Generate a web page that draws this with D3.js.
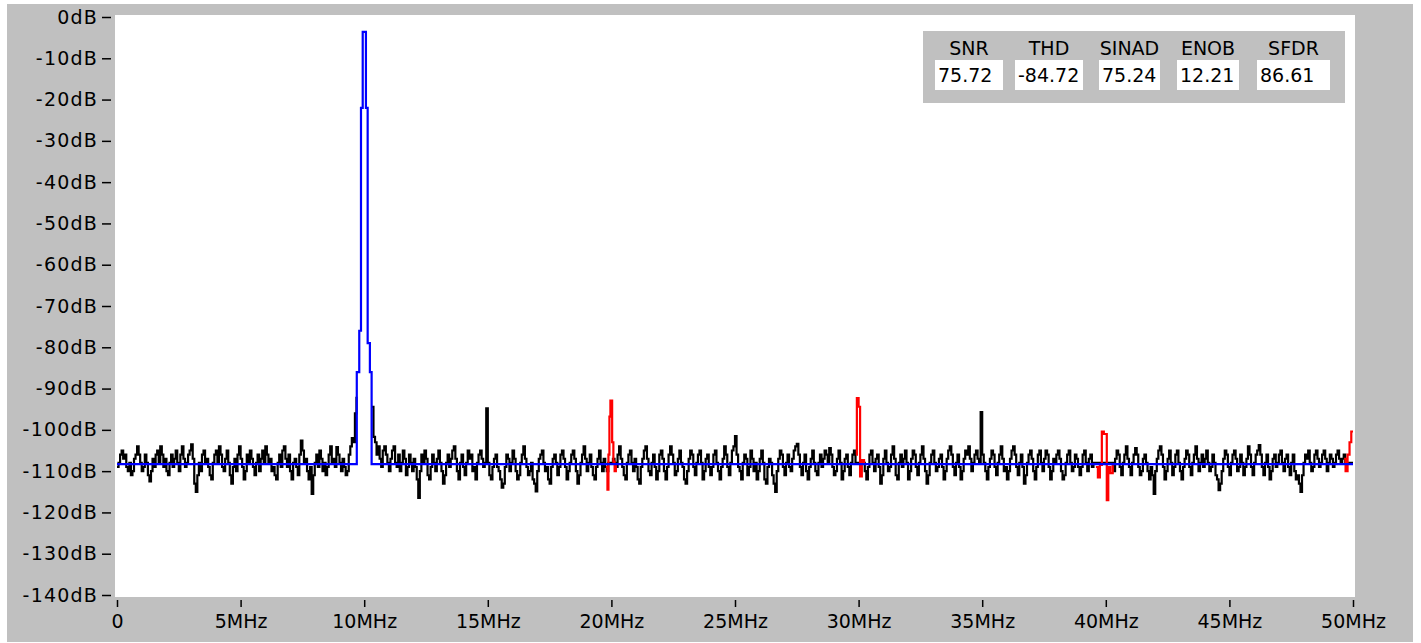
<!DOCTYPE html>
<html><head><meta charset="utf-8">
<script src="https://cdn.jsdelivr.net/npm/d3@7"></script>
<style>
body{margin:0;background:#fff}
svg{display:block}
text{font-family:"DejaVu Sans",sans-serif;fill:#000}
</style>
</head><body>
<svg id="c" width="1421" height="643"></svg>
<script>
// ---- data ----
const yTickValues = [0,-10,-20,-30,-40,-50,-60,-70,-80,-90,-100,-110,-120,-130,-140];
const yTickLabels = ["0dB","-10dB","-20dB","-30dB","-40dB","-50dB","-60dB","-70dB","-80dB","-90dB","-100dB","-110dB","-120dB","-130dB","-140dB"];
const xTickValues = [0,5,10,15,20,25,30,35,40,45,50];
const xTickLabels = ["0","5MHz","10MHz","15MHz","20MHz","25MHz","30MHz","35MHz","40MHz","45MHz","50MHz"];

const metricNames = ["SNR","THD","SINAD","ENOB","SFDR"];
const metricValues = ["75.72","-84.72","75.24","12.21","86.61"];

// noise trace (black): bins of 0.0625 MHz from 0 MHz, one row per MHz; null = under the fundamental
const noiseBinMHz = 0.0625;
const noiseDb = [
 -109,-108,-106,-105,-107,-106,-109,-110,-108,-111,-110,-107,-106,-104,-106,-108,
 -110,-109,-106,-108,-111,-112.5,-110,-107,-109,-106,-105,-108,-104,-106,-109,-107,
 -110,-111,-108,-106,-109,-107,-105,-108,-110,-106,-104,-107,-109,-108,-106,-105,
 -103.5,-107,-113,-115,-111,-108,-110,-106,-105,-108,-107,-109,-111,-112,-108,-106,
 -105,-108,-104,-106,-109,-110,-107,-105,-108,-111,-113,-109,-107,-110,-106,-104,
 -107,-109,-112,-110,-106,-108,-105,-107,-109,-111,-108,-106,-110,-107,-105,-108,
 -104,-106,-108,-107,-110,-109,-111,-112,-108,-106,-109,-105,-104,-107,-109,-106,
 -110,-112,-108,-107,-109,-111,-106,-102.6,-105,-108,-107,-110,-112,-109,-115.5,-111,
 -108,-106,-109,-105,-107,-110,-108,-111,-109,-106,-104,-108,-107,-109,-104.2,-106,
 -108,-110,-107,-109,-111,-110,-106,-104,-102,-103,-96,-92,null,null,null,null,
 null,null,null,null,null,-94.4,-101.7,-103,-106,-104,-107,-109,-105,-104,-106,-108,
 -110,-107,-105,-104,-108,-109,-106,-110,-108,-105,-107,-111,-109,-106,-108,-110,
 -107,-109,-112,-116.5,-110,-106,-108,-105,-107,-111,-112,-109,-106,-108,-110,-107,
 -105,-108,-110,-113,-111,-108,-106,-109,-107,-105,-104,-107,-110,-112,-108,-106,
 -109,-111,-108,-105,-107,-106,-110,-109,-112,-108,-106,-105,-107,-109,-108,-94.8,
 -108,-111,-112,-109,-107,-106,-109,-110,-112,-114,-113,-109,-106,-107,-110,-108,
 -105,-107,-110,-112,-111,-108,-106,-104,-107,-109,-111,-110,-108,-112,-113,-114.9,
 -110,-107,-106,-105,-108,-110,-109,-112,-113,-109,-107,-106,-108,-111,-109,-106,
 -105,-107,-109,-112,-110,-108,-106,-105,-107,-110,-113,-111,-108,-106,-104,-107,
 -110,-108,-106,-109,-111,-112,-109,-107,-105,-108,-110,-107,-109,-110,-108,-108,
 -108,-107,-108,-109,-106,-104,-107,-109,-111,-112,-108,-106,-105,-108,-110,-107,
 -109,-112,-113,-109,-107,-105,-104,-107,-110,-111,-108,-106,-109,-112,-110,-106,
 -105,-107,-110,-112,-109,-106,-104,-106,-108,-111,-110,-107,-105,-108,-109,-112,
 -113,-110,-107,-105,-106,-109,-111,-108,-106,-105,-108,-112,-110,-107,-106,-109,
 -111,-109,-106,-105,-108,-110,-112,-109,-107,-104,-106,-109,-111,-108,-105,-104,
 -101.5,-106,-109,-110,-112,-108,-106,-107,-111,-109,-105,-107,-110,-108,-112,-110,
 -107,-105,-108,-112,-113,-109,-107,-108,-111,-113,-115,-110,-107,-105,-106,-109,
 -111,-108,-106,-109,-110,-107,-105,-104,-103.4,-106,-109,-111,-108,-106,-110,-112,
 -109,-107,-105,-108,-110,-111,-108,-106,-109,-107,-105,-106,-108,-104.4,-106,-109,
 -111,-110,-107,-105,-108,-112,-110,-107,-106,-109,-111,-108,-106,-105,-108,-108,
 -108,-108,-108,-108,-110,-112,-109,-106,-105,-108,-110,-107,-106,-109,-113,-111,
 -107,-105,-108,-110,-109,-106,-104,-107,-111,-112,-108,-106,-109,-107,-105,-108,
 -112,-110,-107,-105,-106,-109,-111,-108,-106,-104,-107,-110,-113,-111,-108,-106,
 -105,-108,-110,-109,-107,-106,-109,-112,-110,-107,-105,-104,-106,-109,-111,-108,
 -106,-109,-112,-110,-107,-105,-106,-104,-107,-110,-108,-106,-105,-107,-108,-95.7,
 -106,-108,-110,-112,-109,-107,-105,-106,-109,-111,-108,-106,-104,-107,-110,-109,
 -112,-110,-107,-105,-104,-106,-109,-111,-108,-106,-109,-113,-111,-108,-106,-105,
 -107,-110,-112,-109,-106,-105,-108,-110,-107,-105,-106,-109,-112,-110,-107,-108,
 -106,-105,-107,-110,-112,-111,-108,-106,-105,-108,-110,-109,-106,-107,-109,-111,
 -109,-106,-105,-108,-110,-107,-106,-109,-108,-108,-108,-108,-108,-108,-108,-108,
 -108,-108,-108,-108,-108,-110,-107,-105,-106,-109,-111,-108,-106,-104,-107,-109,
 -111,-108,-106,-104.4,-106,-109,-111,-110,-107,-106,-108,-110,-112,-109,-111,-115.5,
 -110,-107,-105,-104,-106,-109,-112,-110,-107,-105,-108,-111,-109,-106,-105,-108,
 -110,-112,-109,-107,-105,-106,-109,-111,-108,-106,-104,-107,-110,-108,-106,-109,
 -107,-105,-108,-110,-109,-106,-108,-111,-112,-114.6,-113,-110,-107,-105,-106,-109,
 -111,-108,-106,-105,-107,-110,-109,-106,-108,-111,-109,-107,-104,-106,-109,-111,
 -108,-106,-105,-103.7,-106,-109,-111,-108,-106,-109,-112,-110,-107,-106,-109,-108,
 -106,-105,-108,-110,-107,-106,-109,-111,-108,-106,-110,-112,-111,-113,-115,-111,
 -108,-106,-107,-105,-108,-110,-109,-106,-105,-107,-109,-108,-106,-105,-107,-110,
 -108,-106,-107,-109,-108,-106,-105,-107,-108,-107,-106,-108,-108,-108,-108,-108
];

// fundamental (blue)
const fundFreq = [0, 9.70, 9.80, 9.87, 9.94, 10.00, 10.07, 10.14, 10.23, 10.30, 50];
const fundDb   = [-108.3, -86, -76, -22, -3.6, -3.6, -22, -79, -86, -108.3, -108.3];

// harmonics (red)
const harm2Freq = [19.78, 19.84, 19.88, 19.92, 19.96, 20.03, 20.08, 20.13, 20.18];
const harm2Db   = [-109, -114.5, -106, -96.8, -92.9, -103, -107.7, -110, -108];
const harm3Freq = [29.90, 29.93, 30.00, 30.06, 30.13, 30.22];
const harm3Db   = [-106, -92.3, -94.4, -111.3, -107.3, -108];
const harm4Freq = [39.60, 39.68, 39.76, 39.84, 39.92, 40.04, 40.10, 40.18, 40.28];
const harm4Db   = [-109, -111.5, -108.5, -100.4, -101, -117, -109, -110.5, -108];
const harm5Freq = [49.64, 49.70, 49.78, 49.86, 49.93, 50.0];
const harm5Db   = [-107, -110, -106, -103, -100.4, -100.4];

// ---- drawing ----
const svg = d3.select("#c");
const W = 1421, H = 643;
svg.append("rect").attr("x",0).attr("y",0).attr("width",W).attr("height",H).attr("fill","#ffffff");
svg.append("rect").attr("x",7).attr("y",4).attr("width",1406).attr("height",638).attr("fill","#c0c0c0");

const x = d3.scaleLinear().domain([0,50]).range([117,1353]);
const y = d3.scaleLinear().domain([0,-140]).range([17,595]);

svg.append("rect").attr("x",115).attr("y",15).attr("width",1240).attr("height",582).attr("fill","#ffffff");

// y axis
const yAxis = d3.axisLeft(y).tickValues(yTickValues)
  .tickFormat((d,i)=>yTickLabels[i]).tickSize(9).tickPadding(4);
const gy = svg.append("g").attr("transform","translate(111,0)").call(yAxis);
gy.select(".domain").remove();
gy.selectAll(".tick line").attr("stroke","#000").attr("stroke-width",1.5);
gy.selectAll(".tick text").attr("font-size","19px").attr("letter-spacing","1.2px")
  .attr("font-family","DejaVu Sans, sans-serif").attr("fill","#000");

// x axis
const xAxis = d3.axisBottom(x).tickValues(xTickValues)
  .tickFormat((d,i)=>xTickLabels[i]).tickSize(7).tickPadding(8);
const gx = svg.append("g").attr("transform","translate(0,600)").call(xAxis);
gx.select(".domain").remove();
gx.selectAll(".tick line").attr("stroke","#000").attr("stroke-width",1.5);
gx.selectAll(".tick text").attr("font-size","19px")
  .attr("font-family","DejaVu Sans, sans-serif").attr("fill","#000");

// clip
svg.append("clipPath").attr("id","pc").append("rect")
  .attr("x",115).attr("y",15).attr("width",1240).attr("height",582);
const plot = svg.append("g").attr("clip-path","url(#pc)");

// noise trace
const noisePts = noiseDb.map((v,i)=>({f:i*noiseBinMHz, v:v}));
noisePts.push({f:50, v:noiseDb[noiseDb.length-1]});
const stepLine = d3.line().curve(d3.curveStepAfter)
  .defined(d=>d.v!==null).x(d=>x(d.f)).y(d=>y(d.v));
plot.append("path").datum(noisePts).attr("d",stepLine)
  .attr("fill","none").attr("stroke","#000").attr("stroke-width",2.2)
  .attr("stroke-linejoin","miter");

// harmonics
[[harm2Freq,harm2Db],[harm3Freq,harm3Db],[harm4Freq,harm4Db],[harm5Freq,harm5Db]].forEach(([fs,ds])=>{
  const pts = fs.map((f,i)=>({f:f, v:ds[i]}));
  plot.append("path").datum(pts).attr("d",stepLine)
    .attr("fill","none").attr("stroke","#ff0000").attr("stroke-width",2.2);
});

// fundamental
const fundPts = fundFreq.map((f,i)=>({f:f, v:fundDb[i]}));
plot.append("path").datum(fundPts).attr("d",stepLine)
  .attr("fill","none").attr("stroke","#0000ff").attr("stroke-width",2.2);

// metrics table
const tbl = svg.append("g");
tbl.append("rect").attr("x",923).attr("y",31).attr("width",422).attr("height",72).attr("fill","#c0c0c0");
const boxX = [935,1015,1099,1177,1257];
const boxW = [68,68,61,62,73];
metricNames.forEach((n,i)=>{
  const cx = boxX[i] + boxW[i]/2;
  tbl.append("text").attr("x",cx).attr("y",48).attr("text-anchor","middle")
    .attr("dominant-baseline","central").attr("font-size","19px").text(n);
  tbl.append("rect").attr("x",boxX[i]).attr("y",60).attr("width",boxW[i]).attr("height",30).attr("fill","#ffffff");
  tbl.append("text").attr("x",boxX[i]+3).attr("y",75).attr("dominant-baseline","central")
    .attr("font-size","19px").text(metricValues[i]);
});
</script>
</body></html>
